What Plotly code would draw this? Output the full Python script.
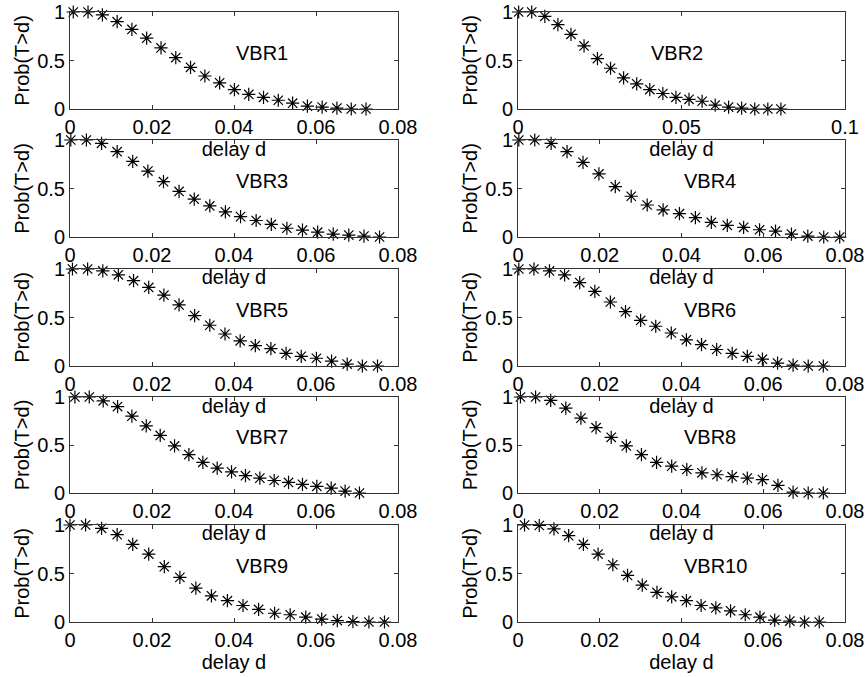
import plotly.graph_objects as go

# ---- data ----
names = ["VBR1", "VBR2", "VBR3", "VBR4", "VBR5", "VBR6", "VBR7", "VBR8", "VBR9", "VBR10"]

x_vbr1 = [0.0008, 0.0044, 0.0079, 0.0115, 0.0151, 0.0187, 0.0222, 0.0258, 0.0294, 0.0329, 0.0365,
          0.0401, 0.0436, 0.0472, 0.0508, 0.0543, 0.0579, 0.0615, 0.0651, 0.0686, 0.0722]
y_vbr1 = [1.0, 1.0, 0.97, 0.90, 0.82, 0.73, 0.63, 0.53, 0.43, 0.34, 0.27,
          0.20, 0.15, 0.12, 0.09, 0.06, 0.03, 0.02, 0.01, 0.0, 0.0]

x_vbr2 = [0.0002, 0.0042, 0.0082, 0.0122, 0.0162, 0.0202, 0.0243, 0.0283, 0.0323, 0.0363, 0.0403,
          0.0443, 0.0483, 0.0523, 0.0563, 0.0603, 0.0644, 0.0684, 0.0724, 0.0764, 0.0804]
y_vbr2 = [1.0, 1.0, 0.955, 0.87, 0.77, 0.65, 0.52, 0.42, 0.32, 0.26, 0.20,
          0.16, 0.12, 0.10, 0.08, 0.04, 0.02, 0.01, 0.0, 0.0, 0.0]

x_vbr3 = [0.0002, 0.0040, 0.0077, 0.0115, 0.0153, 0.0190, 0.0228, 0.0266, 0.0303, 0.0341, 0.0379,
          0.0416, 0.0454, 0.0491, 0.0529, 0.0567, 0.0604, 0.0642, 0.0680, 0.0717, 0.0755]
y_vbr3 = [1.0, 1.0, 0.966, 0.88, 0.78, 0.68, 0.57, 0.47, 0.39, 0.32, 0.26,
          0.21, 0.17, 0.13, 0.09, 0.07, 0.05, 0.03, 0.02, 0.01, 0.0]

x_vbr4 = [0.0002, 0.0041, 0.0081, 0.0120, 0.0159, 0.0198, 0.0238, 0.0277, 0.0316, 0.0355, 0.0395,
          0.0434, 0.0473, 0.0512, 0.0552, 0.0591, 0.0630, 0.0669, 0.0709, 0.0748, 0.0787]
y_vbr4 = [1.0, 1.0, 0.966, 0.88, 0.77, 0.65, 0.52, 0.42, 0.33, 0.28, 0.24,
          0.20, 0.15, 0.12, 0.10, 0.075, 0.06, 0.03, 0.01, 0.0, 0.0]

x_vbr5 = [0.0006, 0.0043, 0.0080, 0.0118, 0.0155, 0.0192, 0.0229, 0.0266, 0.0304, 0.0341, 0.0378,
          0.0415, 0.0452, 0.0490, 0.0527, 0.0564, 0.0601, 0.0638, 0.0676, 0.0713, 0.0750]
y_vbr5 = [1.0, 1.0, 0.98, 0.94, 0.88, 0.81, 0.73, 0.63, 0.52, 0.42, 0.33,
          0.26, 0.21, 0.18, 0.13, 0.10, 0.08, 0.05, 0.02, 0.0, 0.0]

x_vbr6 = [0.0002, 0.0039, 0.0077, 0.0114, 0.0151, 0.0188, 0.0226, 0.0263, 0.0300, 0.0337, 0.0375,
          0.0412, 0.0449, 0.0486, 0.0524, 0.0561, 0.0598, 0.0635, 0.0673, 0.0710, 0.0747]
y_vbr6 = [1.0, 1.0, 0.98, 0.94, 0.86, 0.77, 0.66, 0.56, 0.47, 0.41, 0.34,
          0.27, 0.22, 0.17, 0.13, 0.10, 0.07, 0.03, 0.01, 0.0, 0.0]

x_vbr7 = [0.0012, 0.0047, 0.0081, 0.0116, 0.0151, 0.0186, 0.0220, 0.0255, 0.0290, 0.0324, 0.0359,
          0.0394, 0.0428, 0.0463, 0.0498, 0.0533, 0.0567, 0.0602, 0.0637, 0.0671, 0.0706]
y_vbr7 = [1.0, 1.0, 0.96, 0.90, 0.80, 0.70, 0.60, 0.49, 0.40, 0.32, 0.26,
          0.22, 0.18, 0.155, 0.13, 0.11, 0.09, 0.07, 0.05, 0.02, 0.0]

x_vbr8 = [0.0006, 0.0043, 0.0080, 0.0117, 0.0154, 0.0191, 0.0228, 0.0265, 0.0302, 0.0339, 0.0376,
          0.0413, 0.0450, 0.0487, 0.0524, 0.0561, 0.0598, 0.0636, 0.0673, 0.0710, 0.0747]
y_vbr8 = [1.0, 1.0, 0.965, 0.885, 0.78, 0.68, 0.58, 0.49, 0.40, 0.32, 0.28,
          0.245, 0.21, 0.19, 0.17, 0.155, 0.14, 0.08, 0.01, 0.0, 0.0]

x_vbr9 = [0.0, 0.0038, 0.0077, 0.0115, 0.0153, 0.0192, 0.0230, 0.0268, 0.0307, 0.0345, 0.0384,
          0.0422, 0.0460, 0.0499, 0.0537, 0.0575, 0.0614, 0.0652, 0.0690, 0.0729, 0.0767]
y_vbr9 = [1.0, 1.0, 0.966, 0.90, 0.80, 0.70, 0.57, 0.46, 0.35, 0.27, 0.22,
          0.17, 0.13, 0.09, 0.075, 0.05, 0.03, 0.015, 0.005, 0.0, 0.0]

x_vbr10 = [0.0016, 0.0052, 0.0088, 0.0124, 0.0160, 0.0196, 0.0232, 0.0268, 0.0304, 0.0340, 0.0376,
           0.0412, 0.0448, 0.0484, 0.0520, 0.0556, 0.0592, 0.0628, 0.0665, 0.0701, 0.0737]
y_vbr10 = [1.0, 0.995, 0.96, 0.89, 0.80, 0.70, 0.59, 0.48, 0.38, 0.305, 0.26,
           0.22, 0.17, 0.145, 0.115, 0.075, 0.05, 0.02, 0.01, 0.0, 0.0]

xs = [x_vbr1, x_vbr2, x_vbr3, x_vbr4, x_vbr5, x_vbr6, x_vbr7, x_vbr8, x_vbr9, x_vbr10]
ys = [y_vbr1, y_vbr2, y_vbr3, y_vbr4, y_vbr5, y_vbr6, y_vbr7, y_vbr8, y_vbr9, y_vbr10]

xticks_std = [0, 0.02, 0.04, 0.06, 0.08]
xticklabels_std = ["0", "0.02", "0.04", "0.06", "0.08"]
xticks_wide = [0, 0.05, 0.1]
xticklabels_wide = ["0", "0.05", "0.1"]
yticks = [0, 0.5, 1]
yticklabels = ["0", "0.5", "1"]
x_title = "delay d"
y_title = "Prob(T>d)"

# ---- layout ----
W, H = 866, 677
col_x = [(70, 398), (518, 845)]
row_y = [(12, 109), (140, 237), (269, 366), (397, 493), (525, 622)]
FONT = "Liberation Sans, Arial, Helvetica, sans-serif"
FS = 20

fig = go.Figure()
layout = dict(
    template="none",
    width=W, height=H,
    margin=dict(l=0, r=0, t=0, b=0, pad=0),
    paper_bgcolor="white", plot_bgcolor="white",
    showlegend=False,
    font=dict(family=FONT, size=FS, color="black"),
)
annotations = []

for i, name in enumerate(names):
    r, c = divmod(i, 2)
    k = i + 1
    xa = "xaxis" if k == 1 else f"xaxis{k}"
    ya = "yaxis" if k == 1 else f"yaxis{k}"
    xref = "x" if k == 1 else f"x{k}"
    yref = "y" if k == 1 else f"y{k}"
    x0, x1 = col_x[c]
    y0, y1 = row_y[r]
    wide = (name == "VBR2")
    fig.add_trace(go.Scatter(
        x=xs[i], y=ys[i], mode="markers", xaxis=xref, yaxis=yref,
        marker=dict(symbol="asterisk-open", size=11, color="black",
                    line=dict(color="black", width=1.2)),
        cliponaxis=False, name=name,
    ))
    layout[xa] = dict(
        domain=[x0 / W, x1 / W], anchor=yref, automargin=False,
        range=[0, 0.1] if wide else [0, 0.08],
        tickvals=xticks_wide if wide else xticks_std,
        ticktext=xticklabels_wide if wide else xticklabels_std,
        showline=True, linecolor="#333", linewidth=1, mirror="ticks",
        ticks="inside", ticklen=4, tickcolor="#333",
        showgrid=False, zeroline=False,
        title=dict(text=x_title, standoff=3, font=dict(size=FS)),
        tickfont=dict(size=FS),
        ticklabelstandoff=0,
    )
    layout[ya] = dict(
        domain=[1 - y1 / H, 1 - y0 / H], anchor=xref, automargin=False,
        range=[0, 1],
        tickvals=yticks, ticktext=yticklabels,
        showline=True, linecolor="#333", linewidth=1, mirror="ticks",
        ticks="inside", ticklen=4, tickcolor="#333",
        showgrid=False, zeroline=False,
        title=dict(text=y_title, standoff=2, font=dict(size=FS)),
        tickfont=dict(size=FS),
    )
    annotations.append(dict(
        x=0.04, y=0.58, xref=xref, yref=yref, text=name, showarrow=False,
        xanchor="left", yanchor="middle", font=dict(size=FS, color="black"),
    ))

layout["annotations"] = annotations
fig.update_layout(**layout)
# remove the default 8px page margin so the 866x677 figure fills the window
fig.write_html(
    "out.html",
    config={"displayModeBar": False},
    post_script="document.body.style.margin='0';document.body.style.overflow='hidden';",
)
